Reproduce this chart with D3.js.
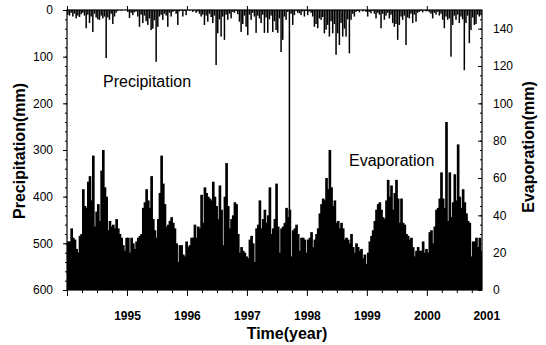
<!DOCTYPE html>
<html>
<head>
<meta charset="utf-8">
<script src="https://cdn.jsdelivr.net/npm/d3@7"></script>
<style>
  body { margin: 0; background: #fff; }
  text { font-family: "Liberation Sans", Arial, sans-serif; fill: #000; }
</style>
</head>
<body>
<svg id="graph" width="546" height="345"></svg>
<script>
// values are read per 1/36 year (about 10 days), one array per year
var years = [1994, 1995, 1996, 1997, 1998, 1999, 2000];
var binsPerYear = 36;
var lastTime = 2000.92;

var evap1994 = [26,26,33,28,27,22,20,29,30,54,45,44,58,61,48,72,34,42,46,37,64,75,55,50,32,37,34,35,33,38,33,30,28,24,21,28];
var evap1995 = [28,20,28,25,22,26,28,29,30,44,47,54,48,44,61,38,32,28,38,52,72,57,46,34,35,37,39,36,33,25,15,24,24,19,18,26];
var evap1996 = [23,24,28,28,35,28,34,33,51,36,55,52,50,49,48,58,50,45,38,56,43,24,50,68,45,33,38,40,47,46,30,20,23,21,20,18];
var evap1997 = [17,27,29,25,15,33,35,48,33,38,43,36,40,55,30,33,38,57,34,20,33,34,36,44,39,43,18,32,33,35,30,21,28,28,27,20];
var evap1998 = [27,28,31,23,27,30,33,41,46,49,48,60,54,75,55,45,48,36,37,33,36,33,27,28,27,25,30,23,20,25,23,21,22,17,19,14];
var evap1999 = [20,26,29,32,37,43,46,47,43,39,38,48,59,50,56,43,52,59,49,36,49,36,35,30,29,27,28,23,18,21,23,21,21,26,20,22];
var evap2000 = [20,31,32,25,34,43,44,49,63,49,44,90,37,63,39,47,62,48,78,50,44,54,47,41,37,36,18,26,26,28,23,28,21];

var prec1994 = [10,12,6,14,8,18,12,15,9,6,12,39,10,28,14,47,8,16,20,21,12,18,14,103,16,21,8,30,14,6,2,0,1,0,0,0];
var prec1995 = [4,17,6,11,5,3,14,36,10,28,12,24,32,18,43,40,22,111,36,14,10,21,8,12,36,6,14,4,2,8,32,3,1,14,2,11];
var prec1996 = [0,2,0,4,1,6,3,8,14,10,32,12,25,8,15,28,12,118,50,20,57,14,64,10,21,8,18,4,6,2,9,25,47,30,12,36];
var prec1997 = [54,10,21,6,14,49,12,18,28,10,49,16,49,20,12,47,24,43,49,18,90,64,14,21,4,531,8,32,11,2,6,7,11,3,14,2];
var prec1998 = [11,3,6,14,36,30,39,18,21,15,50,42,32,57,24,50,30,96,50,75,28,57,40,57,20,93,21,8,14,4,2,5,0,3,1,4];
var prec1999 = [14,4,7,2,8,18,6,10,39,8,21,12,6,18,10,28,36,30,64,32,14,21,12,75,16,18,8,28,10,25,6,4,2,5,1,3];
var prec2000 = [2,5,8,18,6,10,4,12,8,21,39,14,21,18,100,32,12,21,10,28,14,20,129,28,12,71,43,16,32,30,10,14,11];

var precTicks = [0, 100, 200, 300, 400, 500, 600];
var evapTicks = [0, 20, 40, 60, 80, 100, 120, 140];
var yearLabels = [1995, 1996, 1997, 1998, 1999, 2000, 2001];

function flatten(list)
{
  var out = [];
  list.forEach(function(arr, i) {
    arr.forEach(function(v, k) {
      out.push({t: years[i] + k / binsPerYear, v: v});
    });
  });
  return out;
}

function makeChart()
{
  var evap = flatten([evap1994, evap1995, evap1996, evap1997, evap1998, evap1999, evap2000]);
  var prec = flatten([prec1994, prec1995, prec1996, prec1997, prec1998, prec1999, prec2000]);

  var x0 = 67, x1 = 482, y0 = 10, y1 = 290;

  var sx = d3.scaleLinear().domain([1994, lastTime]).range([x0, x1]);
  var sP = d3.scaleLinear().domain([0, 600]).range([y0, y1]);
  var sE = d3.scaleLinear().domain([0, 150]).range([y1, y0]);

  var svg = d3.select("#graph");
  var step = sx(1994 + 1 / binsPerYear) - sx(1994);

  // evaporation bars from the bottom (overlapping so the mass stays solid)
  svg.append("g").selectAll("rect").data(evap).enter().append("rect")
    .attr("x", d => sx(d.t))
    .attr("width", d => Math.min(step + 1, x1 - sx(d.t)))
    .attr("y", d => sE(d.v))
    .attr("height", d => sE(0) - sE(d.v))
    .attr("fill", "#000");

  // precipitation bars hanging from the top
  svg.append("g").selectAll("rect").data(prec).enter().append("rect")
    .attr("x", d => sx(d.t) + 0.1)
    .attr("width", 1.5)
    .attr("y", sP(0))
    .attr("height", d => sP(d.v) - sP(0))
    .attr("fill", "#000");

  // frame
  svg.append("rect")
    .attr("x", x0).attr("y", y0)
    .attr("width", x1 - x0).attr("height", y1 - y0)
    .attr("fill", "none").attr("stroke", "#000").attr("stroke-width", 1.2);

  function clean(g, size)
  {
    g.select(".domain").remove();
    g.selectAll("line").attr("stroke", "#000").attr("stroke-width", 1);
    g.selectAll("text").style("font-size", size + "px");
  }

  // bottom axis
  var quarters = d3.range(1994, lastTime, 0.25).filter(v => v % 1 !== 0);
  svg.append("g").attr("transform", `translate(0,${y1})`)
    .call(d3.axisBottom(sx).tickValues(quarters).tickSize(3).tickFormat(""))
    .call(g => clean(g, 12));
  var gb = svg.append("g").attr("transform", `translate(0,${y1})`)
    .call(d3.axisBottom(sx).tickValues(years).tickSize(6).tickPadding(15)
      .tickFormat(d => yearLabels.indexOf(d) >= 0 ? d : ""))
    .call(g => clean(g, 12));
  gb.selectAll("text").style("font-weight", "bold");
  gb.append("text")
    .attr("x", sx(2001)).attr("y", 21).attr("dy", "0.71em")
    .attr("text-anchor", "middle")
    .style("font-size", "12px").style("font-weight", "bold")
    .text(yearLabels[yearLabels.length - 1]);

  // top axis
  svg.append("g").attr("transform", `translate(0,${y0})`)
    .call(d3.axisTop(sx).tickValues(years).tickSize(4).tickFormat(""))
    .call(g => clean(g, 12));

  // left axis
  svg.append("g").attr("transform", `translate(${x0},0)`)
    .call(d3.axisLeft(sP).tickValues(d3.range(0, 601, 20)).tickSize(2).tickFormat(""))
    .call(g => clean(g, 12));
  svg.append("g").attr("transform", `translate(${x0},0)`)
    .call(d3.axisLeft(sP).tickValues(precTicks).tickSize(4).tickPadding(10))
    .call(g => clean(g, 12));

  // right axis
  svg.append("g").attr("transform", `translate(${x1},0)`)
    .call(d3.axisRight(sE).tickValues(d3.range(0, 150, 5)).tickSize(-2).tickFormat(""))
    .call(g => clean(g, 12));
  svg.append("g").attr("transform", `translate(${x1},0)`)
    .call(d3.axisRight(sE).tickValues(evapTicks).tickSize(-4).tickPadding(11))
    .call(g => clean(g, 12));

  // labels
  svg.append("text").attr("x", 103).attr("y", 87)
    .style("font-size", "16px").text("Precipitation");
  svg.append("text").attr("x", 349).attr("y", 166)
    .style("font-size", "16px").text("Evaporation");
  svg.append("text").attr("x", 287).attr("y", 339).attr("text-anchor", "middle")
    .style("font-size", "16px").style("font-weight", "bold").text("Time(year)");
  svg.append("text").attr("transform", "translate(25,151) rotate(-90)")
    .attr("text-anchor", "middle")
    .style("font-size", "16px").style("font-weight", "bold").text("Precipitation(mm)");
  svg.append("text").attr("transform", "translate(534,147) rotate(-90)")
    .attr("text-anchor", "middle")
    .style("font-size", "16px").style("font-weight", "bold").text("Evaporation(mm)");
}

makeChart();
</script>
</body>
</html>
